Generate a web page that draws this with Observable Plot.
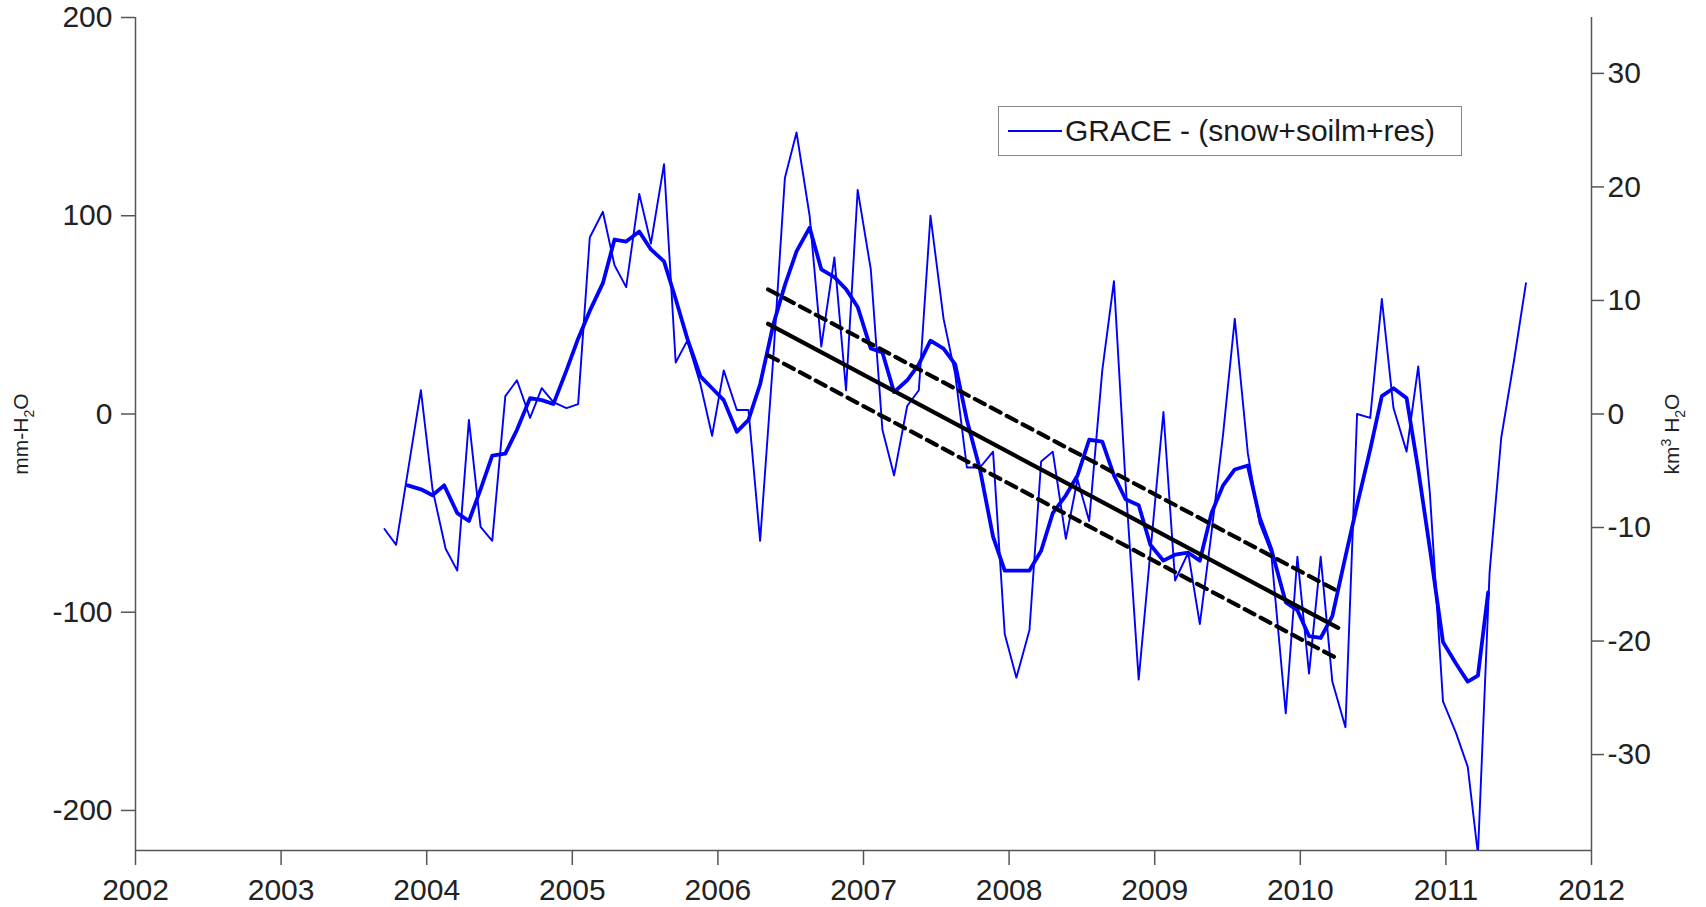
<!DOCTYPE html>
<html>
<head>
<meta charset="utf-8">
<script src="https://cdn.jsdelivr.net/npm/d3@7"></script>
<script src="https://cdn.jsdelivr.net/npm/@observablehq/plot@0.6"></script>
<style>
html, body { margin: 0; padding: 0; background: #fff; overflow: hidden; }
#wrap { position: relative; width: 1706px; height: 907px; font-family: "Liberation Sans", Arial, Helvetica, sans-serif; }
.ylab { position: absolute; font-size: 21px; color: #222; white-space: nowrap; line-height: 1; transform: translate(-50%, -50%) rotate(-90deg); }
.ylab sub, .ylab sup { font-size: 14px; }
#legend { position: absolute; left: 998px; top: 106px; width: 464px; height: 50px; box-sizing: border-box; border: 1.5px solid #888; background: #fff; }
#legend .sw { position: absolute; left: 9px; top: 23px; width: 54px; height: 0; border-top: 2px solid #0000ff; }
#legend .tx { position: absolute; left: 66px; top: 8px; font-size: 30px; line-height: 32px; color: #1a1a1a; white-space: nowrap; }
</style>
</head>
<body>
<div id="wrap"></div>
<script>
// ---- data ----
const xDomain = [2002, 2012];
const yDomain = [-220.2, 200];
const yearTicks = [2002, 2003, 2004, 2005, 2006, 2007, 2008, 2009, 2010, 2011, 2012];
const mmTicks = [-200, -100, 0, 100, 200];
const kmTicks = [-30, -20, -10, 0, 10, 20, 30];
const mmPerKm3 = 5.727;

const thinT = [2003.71, 2003.79, 2003.96, 2004.04, 2004.13, 2004.21, 2004.29, 2004.37, 2004.45, 2004.54,
  2004.62, 2004.71, 2004.79, 2004.87, 2004.96, 2005.04, 2005.12, 2005.21, 2005.29, 2005.37,
  2005.46, 2005.54, 2005.63, 2005.71, 2005.79, 2005.88, 2005.96, 2006.04, 2006.13, 2006.21,
  2006.29, 2006.38, 2006.46, 2006.54, 2006.63, 2006.71, 2006.80, 2006.88, 2006.96, 2007.05,
  2007.13, 2007.21, 2007.30, 2007.38, 2007.46, 2007.55, 2007.63, 2007.71, 2007.80, 2007.89,
  2007.97, 2008.05, 2008.14, 2008.22, 2008.30, 2008.39, 2008.47, 2008.55, 2008.64, 2008.72,
  2008.80, 2008.89, 2008.97, 2009.06, 2009.14, 2009.23, 2009.31, 2009.39, 2009.47, 2009.55,
  2009.64, 2009.72, 2009.80, 2009.90, 2009.98, 2010.06, 2010.14, 2010.22, 2010.31, 2010.39,
  2010.48, 2010.56, 2010.64, 2010.73, 2010.81, 2010.89, 2010.98, 2011.07, 2011.15, 2011.22,
  2011.30, 2011.38, 2011.47, 2011.55];
const thinV = [-58, -66, 12, -38, -68, -79, -3, -57, -64, 9,
  17, -2, 13, 6, 3, 5, 89, 102, 75, 64,
  111, 86, 126, 26, 37, 15, -11, 22, 2, 2,
  -64, 28, 119, 142, 100, 34, 79, 12, 113, 73,
  -8, -31, 4, 12, 100, 48, 20, -27, -27, -19,
  -111, -133, -109, -24, -19, -63, -33, -54, 22, 67,
  -35, -134, -70, 1, -84, -70, -106, -60, -10, 48,
  -20, -55, -70, -151, -72, -131, -72, -135, -158, 0,
  -2, 58, 3, -19, 24, -40, -145, -161, -178, -222,
  -80, -12, 28, 66];

const thickT = [2003.87, 2003.96, 2004.04, 2004.12, 2004.21, 2004.29, 2004.37, 2004.45, 2004.54, 2004.62,
  2004.71, 2004.79, 2004.87, 2004.96, 2005.04, 2005.12, 2005.21, 2005.29, 2005.37, 2005.46,
  2005.54, 2005.63, 2005.71, 2005.79, 2005.88, 2005.96, 2006.04, 2006.13, 2006.21, 2006.29,
  2006.38, 2006.46, 2006.54, 2006.63, 2006.71, 2006.80, 2006.88, 2006.96, 2007.05, 2007.13,
  2007.21, 2007.30, 2007.38, 2007.46, 2007.55, 2007.63, 2007.71, 2007.80, 2007.89, 2007.97,
  2008.05, 2008.14, 2008.22, 2008.30, 2008.39, 2008.47, 2008.55, 2008.64, 2008.72, 2008.80,
  2008.89, 2008.97, 2009.06, 2009.14, 2009.23, 2009.31, 2009.39, 2009.47, 2009.55, 2009.64,
  2009.72, 2009.80, 2009.90, 2009.98, 2010.06, 2010.14, 2010.22, 2010.31, 2010.39, 2010.48,
  2010.56, 2010.64, 2010.73, 2010.81, 2010.89, 2010.98, 2011.07, 2011.15, 2011.22, 2011.29];
const thickV = [-36, -38, -41, -36, -50, -54, -38, -21, -20, -8,
  8, 7, 5, 22, 38, 52, 66, 88, 87, 92,
  83, 77, 58, 38, 19, 13, 7, -9, -3, 15,
  45, 65, 82, 94, 73, 69, 63, 54, 33, 31,
  11, 17, 25, 37, 33, 25, -3, -28, -62, -79,
  -79, -79, -69, -50, -41, -31, -13, -14, -31, -43,
  -46, -66, -74, -71, -70, -74, -50, -36, -28, -26,
  -52, -68, -95, -99, -112, -113, -102, -72, -46, -18,
  9, 13, 8, -28, -68, -115, -126, -135, -132, -90];

const trendT = [2006.345, 2010.26];
const trendMid = [45.5, -107.9];
const trendHi = [62.8, -89.5];
const trendLo = [29.6, -123.6];

const legendLabel = "GRACE - (snow+soilm+res)";

// ---- tables ----
const thin = thinT.map((t, i) => ({t, v: thinV[i]}));
const thick = thickT.map((t, i) => ({t, v: thickV[i]}));
const mid = trendT.map((t, i) => ({t, v: trendMid[i]}));
const hi = trendT.map((t, i) => ({t, v: trendHi[i]}));
const lo = trendT.map((t, i) => ({t, v: trendLo[i]}));

const axisColor = "#555";
const chart = Plot.plot({
  width: 1706,
  height: 907,
  marginLeft: 135,
  marginRight: 115,
  marginTop: 17,
  marginBottom: 57,
  x: {domain: xDomain},
  y: {domain: yDomain},
  style: {fontFamily: '"Liberation Sans", Arial, Helvetica, sans-serif', fontSize: "30px", color: "#222", background: "#fff"},
  marks: [
    Plot.axisX({ticks: yearTicks, tickSize: 15, tickPadding: 13, tickFormat: d => String(d), label: null, stroke: axisColor, strokeWidth: 1.5}),
    Plot.axisY({anchor: "left", ticks: mmTicks, tickSize: 14, tickPadding: 9, tickFormat: d => String(d), label: null, stroke: axisColor, strokeWidth: 1.5}),
    Plot.axisY({anchor: "right", ticks: kmTicks.map(k => k * mmPerKm3), tickSize: 12, tickPadding: 4,
      tickFormat: d => String(Math.round(d / mmPerKm3)), label: null, stroke: axisColor, strokeWidth: 1.5}),
    Plot.ruleY([yDomain[0]], {stroke: axisColor, strokeWidth: 1.5}),
    Plot.ruleX(xDomain, {stroke: axisColor, strokeWidth: 1.5}),
    Plot.line(thin, {x: "t", y: "v", stroke: "#0000ff", strokeWidth: 1.9, clip: true}),
    Plot.line(thick, {x: "t", y: "v", stroke: "#0000ff", strokeWidth: 3.8, clip: true}),
    Plot.line(mid, {x: "t", y: "v", stroke: "#000", strokeWidth: 4.2}),
    Plot.line(hi, {x: "t", y: "v", stroke: "#000", strokeWidth: 4.2, strokeDasharray: "11,7"}),
    Plot.line(lo, {x: "t", y: "v", stroke: "#000", strokeWidth: 4.2, strokeDasharray: "11,7"})
  ]
});

const wrap = document.getElementById("wrap");
wrap.appendChild(chart);

const left = document.createElement("div");
left.className = "ylab";
left.style.left = "23px";
left.style.top = "434px";
left.innerHTML = "mm-H<sub>2</sub>O";
wrap.appendChild(left);

const right = document.createElement("div");
right.className = "ylab";
right.style.left = "1673px";
right.style.top = "434px";
right.innerHTML = "km<sup>3</sup> H<sub>2</sub>O";
wrap.appendChild(right);

const legend = document.createElement("div");
legend.id = "legend";
legend.innerHTML = '<div class="sw"></div><div class="tx"></div>';
legend.querySelector(".tx").textContent = legendLabel;
wrap.appendChild(legend);
</script>
</body>
</html>
